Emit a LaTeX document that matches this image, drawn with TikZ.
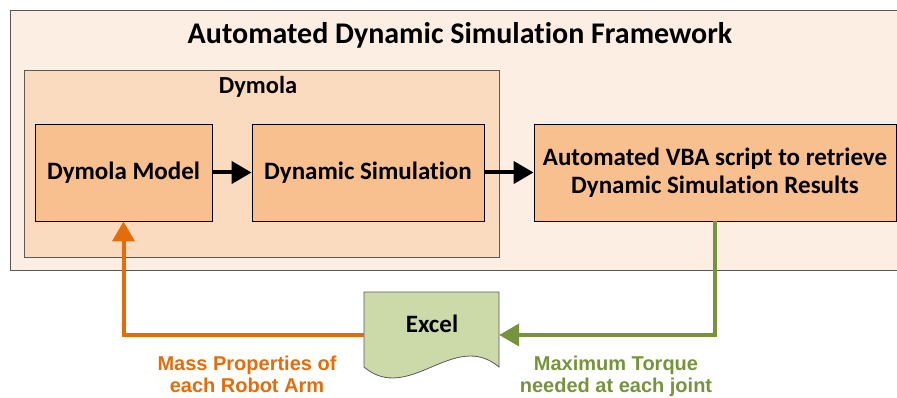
\documentclass[tikz,border=0pt]{standalone}
\usepackage{fontspec}
\setmainfont{Carlito}[Ligatures=NoCommon]
\newfontfamily\arialfont{Liberation Sans}
\usepackage{tikz}
\usetikzlibrary{arrows.meta, positioning}

\definecolor{framefill}{HTML}{FDEEE3}
\definecolor{dymolafill}{HTML}{FBDBC0}
\definecolor{boxfill}{HTML}{F8BF8F}
\definecolor{excelfill}{HTML}{CCDAA9}
\definecolor{framegray}{HTML}{595959}
\definecolor{massorange}{HTML}{E46C0A}
\definecolor{torquegreen}{HTML}{77933C}

\begin{document}
\begin{tikzpicture}[x=1pt, y=-1pt, font=\bfseries,
		block/.style={draw=black, fill=boxfill, line width=0.8pt, inner sep=0pt, align=center, minimum height=97pt, font=\fontsize{25}{28}\selectfont\bfseries},
		flow/.style={-{Triangle[length=20pt, width=22pt]}, line width=4pt},
		note/.style={align=center, font=\arialfont\fontsize{20}{21.5}\selectfont\bfseries}]
		\useasboundingbox (0, 0) rectangle (897, 398);
		
		\draw[framegray, fill=framefill, line width=0.8pt] (10, 10) rectangle (903, 270);
		\node[anchor=base, font=\fontsize{30}{34}\selectfont\bfseries] (title) at (460, 44) {Automated Dynamic Simulation Framework};
		
		\draw[framegray, fill=dymolafill, line width=0.8pt] (24, 70) rectangle (499, 257);
		\node[anchor=base, font=\fontsize{24.5}{28}\selectfont\bfseries] (dymola) at (258, 94) {Dymola};
		\node[block, minimum width=177pt] (model) at (123.5, 172.5) {Dymola Model};
		\node[block, minimum width=232pt] (sim) at (368, 172.5) {Dynamic Simulation};
		
		\node[block, minimum width=362pt] (vba) at (715, 172.5) {Automated VBA script to retrieve\\Dynamic Simulation Results};
		
		\node[minimum width=135pt, minimum height=86pt, inner sep=0pt] (excel) at (431.5, 335) {};
		\draw[framegray, fill=excelfill, line width=0.8pt] (364, 292) -- (499, 292) -- (499, 367)
			.. controls (454, 329) and (409, 405) .. (364, 367) -- cycle;
		\node[anchor=base, font=\fontsize{25}{28}\selectfont\bfseries] (exceltext) at (432, 332) {Excel};
		
		\draw[flow] (model) -- (sim);
		\draw[flow] (sim) -- (vba);
		\draw[flow, massorange] (excel.west) -| (model.south);
		\draw[flow, torquegreen] (vba.south) |- (excel.east);
		
		\node[note, text=massorange, anchor=base] (mass) at (247, 392) {Mass Properties of\\each Robot Arm};
		\node[note, text=torquegreen, anchor=base] (torque) at (616, 392) {Maximum Torque\\needed at each joint};
	\end{tikzpicture}
\end{document}
